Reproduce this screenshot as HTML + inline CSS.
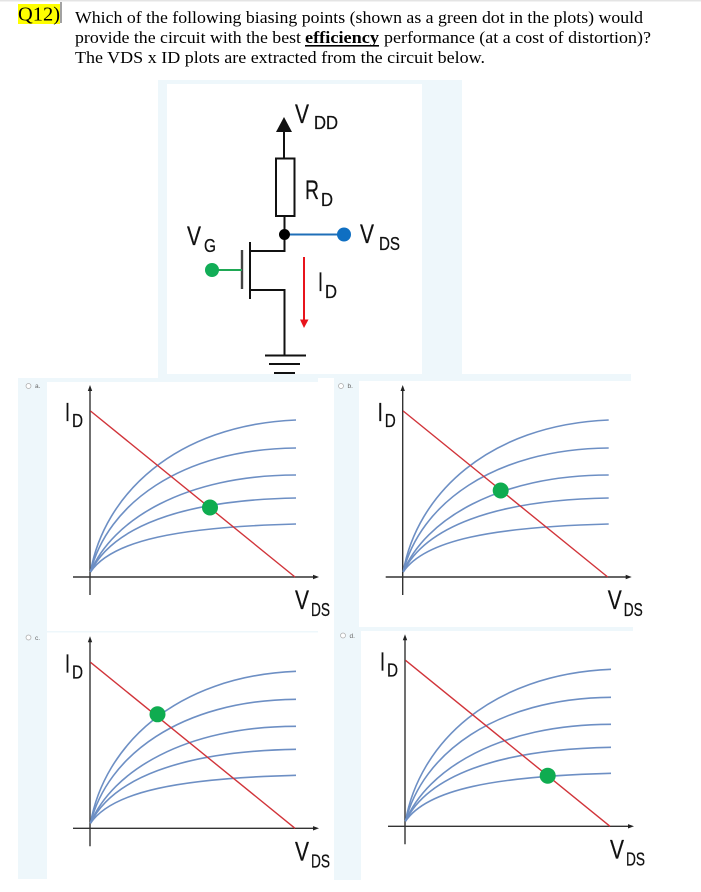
<!DOCTYPE html>
<html>
<head>
<meta charset="utf-8">
<style>
html,body{margin:0;padding:0;background:#fff;width:701px;height:892px;overflow:hidden}
svg{display:block;position:absolute;left:0;top:0}
.q{font-family:"Liberation Serif",serif;fill:#000}
.s{font-family:"Liberation Sans",sans-serif;fill:#111;stroke:#111;stroke-width:.25}
.o{font-family:"Liberation Sans",sans-serif;font-size:6.5px;fill:#666}
.b{fill:#eef7fb}
.cv{fill:none;stroke:#6d8fc4;stroke-width:1.6}
.ax{stroke:#333;stroke-width:1.4;fill:none}
.rd{stroke:#d1343a;stroke-width:1.4;fill:none}
.k{stroke:#111;stroke-width:2;fill:none}
.r{fill:#fff;stroke:#aaa;stroke-width:.7}
</style>
</head>
<body>
<svg width="701" height="892" viewBox="0 0 701 892" xmlns="http://www.w3.org/2000/svg">
<!-- top strip -->
<rect x="0" y="0" width="701" height="1.5" fill="#e4e4e4"/>
<!-- backgrounds -->
<rect class="b" x="158" y="80" width="304" height="298"/>
<rect x="167" y="84" width="255" height="290" fill="#fff"/>
<rect class="b" x="18" y="378" width="300" height="4"/>
<rect class="b" x="18" y="378" width="29" height="501"/>
<rect class="b" x="47" y="631" width="271" height="1.5"/>
<rect class="b" x="334" y="374" width="297" height="7"/>
<rect class="b" x="334" y="378" width="25" height="249"/>
<rect class="b" x="334" y="627" width="299" height="4"/>
<rect class="b" x="334" y="627" width="27" height="253"/>
<!-- question text -->
<rect x="18" y="4" width="42" height="20" fill="#ffff00"/>
<rect x="60.500" y="2" width="1" height="21" fill="#444"/>
<text class="q" x="18" y="20.500" font-size="20" textLength="42" lengthAdjust="spacingAndGlyphs">Q12)</text>
<text class="q" x="75" y="23" font-size="17" textLength="568" lengthAdjust="spacingAndGlyphs">Which of the following biasing points (shown as a green dot in the plots) would</text>
<text class="q" x="75" y="43" font-size="17" textLength="226" lengthAdjust="spacingAndGlyphs">provide the circuit with the best</text>
<text class="q" x="305" y="43" font-size="17" font-weight="bold" textLength="74" lengthAdjust="spacingAndGlyphs">efficiency</text>
<rect x="305" y="45" width="74" height="1.6" fill="#000"/>
<text class="q" x="384" y="43" font-size="17" textLength="267" lengthAdjust="spacingAndGlyphs">performance (at a cost of distortion)?</text>
<text class="q" x="75" y="63" font-size="17" textLength="410" lengthAdjust="spacingAndGlyphs">The VDS x ID plots are extracted from the circuit below.</text>

<!-- circuit -->
<g>
<path d="M284 117 L276 132 L292 132 Z" fill="#111"/>
<path class="k" d="M284 130 V158"/>
<rect x="276" y="158.500" width="18.500" height="57.500" fill="#fff" stroke="#111" stroke-width="2"/>
<path class="k" d="M284.500 216 V252"/>
<path class="k" d="M250 251 H285"/>
<path class="k" d="M250 242 V299" stroke-width="2.200"/>
<path d="M242 250 V289" stroke="#444" stroke-width="2.400" fill="none"/>
<path class="k" d="M250 290 H284.500 V355"/>
<path class="k" d="M265 355.500 H306"/>
<path class="k" d="M269 364 H300"/>
<path class="k" d="M274 373 H295"/>
<circle cx="284.500" cy="234.500" r="5.500" fill="#000"/>
<path d="M290 234.500 H340" stroke="#1f6fb8" stroke-width="2" fill="none"/>
<circle cx="344" cy="234.500" r="7" fill="#0f6fc2"/>
<path d="M214 270 H242" stroke="#1fa855" stroke-width="2" fill="none"/>
<circle cx="212" cy="270" r="7" fill="#12ad57"/>
<path d="M304 257 V322" stroke="#e8141c" stroke-width="2" fill="none"/>
<path d="M300 319.500 H308.500 L304 328 Z" fill="#e8141c"/>
<text class="s" x="295" y="123" font-size="27" textLength="14" lengthAdjust="spacingAndGlyphs">V</text>
<text class="s" x="314" y="129" font-size="18" textLength="24" lengthAdjust="spacingAndGlyphs">DD</text>
<text class="s" x="305" y="199" font-size="27" textLength="14" lengthAdjust="spacingAndGlyphs">R</text>
<text class="s" x="321" y="206" font-size="18" textLength="12" lengthAdjust="spacingAndGlyphs">D</text>
<text class="s" x="360" y="243" font-size="27" textLength="14" lengthAdjust="spacingAndGlyphs">V</text>
<text class="s" x="379" y="250" font-size="18" textLength="21" lengthAdjust="spacingAndGlyphs">DS</text>
<text class="s" x="187" y="245" font-size="27" textLength="14" lengthAdjust="spacingAndGlyphs">V</text>
<text class="s" x="204" y="252" font-size="18" textLength="12" lengthAdjust="spacingAndGlyphs">G</text>
<text class="s" x="318" y="291" font-size="27" textLength="5" lengthAdjust="spacingAndGlyphs">I</text>
<text class="s" x="325" y="298" font-size="18" textLength="12" lengthAdjust="spacingAndGlyphs">D</text>
</g>

<!-- plot a -->
<g>
<path class="ax" d="M90 389 V595"/><path class="ax" d="M73 577 H316"/>
<path d="M90 385 L87.800 391 H92.200 Z" fill="#222"/><path d="M319 577 L313 574.800 V579.200 Z" fill="#222"/>
<path class="cv" d="M90.500 572 C104 495,175 425,296 420"/>
<path class="cv" d="M90.500 572 C107 505,180 449,296 448"/>
<path class="cv" d="M90.500 572 C112 520,185 475,296 475"/>
<path class="cv" d="M90.500 572 C112 528,180 500,296 498"/>
<path class="cv" d="M90.500 572 C112 540,180 527,296 524"/>
<path class="rd" d="M90.500 411 L295 577"/>
<circle cx="210" cy="507.500" r="8" fill="#0fac50"/>
<text class="s" x="65" y="421" font-size="26" textLength="5" lengthAdjust="spacingAndGlyphs">I</text>
<text class="s" x="72" y="427" font-size="18" textLength="11" lengthAdjust="spacingAndGlyphs">D</text>
<text class="s" x="295" y="609" font-size="27" textLength="14" lengthAdjust="spacingAndGlyphs">V</text>
<text class="s" x="311" y="616" font-size="18" textLength="19" lengthAdjust="spacingAndGlyphs">DS</text>
</g>
<circle class="r" cx="28.500" cy="386" r="2.500"/><text class="o" x="35" y="388">a.</text>

<!-- plot b -->
<g transform="translate(312.700,0)">
<path class="ax" d="M90 389 V595"/><path class="ax" d="M73 577 H316"/>
<path d="M90 385 L87.800 391 H92.200 Z" fill="#222"/><path d="M319 577 L313 574.800 V579.200 Z" fill="#222"/>
<path class="cv" d="M90.500 572 C104 495,175 425,296 420"/>
<path class="cv" d="M90.500 572 C107 505,180 449,296 448"/>
<path class="cv" d="M90.500 572 C112 520,185 475,296 475"/>
<path class="cv" d="M90.500 572 C112 528,180 500,296 498"/>
<path class="cv" d="M90.500 572 C112 540,180 527,296 524"/>
<path class="rd" d="M90.500 411 L295 577"/>
<circle cx="188" cy="490.500" r="8" fill="#0fac50"/>
<text class="s" x="65" y="421" font-size="26" textLength="5" lengthAdjust="spacingAndGlyphs">I</text>
<text class="s" x="72" y="427" font-size="18" textLength="11" lengthAdjust="spacingAndGlyphs">D</text>
<text class="s" x="295" y="609" font-size="27" textLength="14" lengthAdjust="spacingAndGlyphs">V</text>
<text class="s" x="311" y="616" font-size="18" textLength="19" lengthAdjust="spacingAndGlyphs">DS</text>
</g>
<circle class="r" cx="341" cy="386" r="2.500"/><text class="o" x="347.500" y="388">b.</text>

<!-- plot c -->
<g transform="translate(0,251.300)">
<path class="ax" d="M90 389 V595"/><path class="ax" d="M73 577 H316"/>
<path d="M90 385 L87.800 391 H92.200 Z" fill="#222"/><path d="M319 577 L313 574.800 V579.200 Z" fill="#222"/>
<path class="cv" d="M90.500 572 C104 495,175 425,296 420"/>
<path class="cv" d="M90.500 572 C107 505,180 449,296 448"/>
<path class="cv" d="M90.500 572 C112 520,185 475,296 475"/>
<path class="cv" d="M90.500 572 C112 528,180 500,296 498"/>
<path class="cv" d="M90.500 572 C112 540,180 527,296 524"/>
<path class="rd" d="M90.500 411 L295 577"/>
<circle cx="157.500" cy="463" r="8" fill="#0fac50"/>
<text class="s" x="65" y="421" font-size="26" textLength="5" lengthAdjust="spacingAndGlyphs">I</text>
<text class="s" x="72" y="427" font-size="18" textLength="11" lengthAdjust="spacingAndGlyphs">D</text>
<text class="s" x="295" y="609" font-size="27" textLength="14" lengthAdjust="spacingAndGlyphs">V</text>
<text class="s" x="311" y="616" font-size="18" textLength="19" lengthAdjust="spacingAndGlyphs">DS</text>
</g>
<circle class="r" cx="28.500" cy="637.500" r="2.500"/><text class="o" x="35" y="640">c.</text>

<!-- plot d -->
<g transform="translate(315,249.300)">
<path class="ax" d="M90 389 V595"/><path class="ax" d="M73 577 H316"/>
<path d="M90 385 L87.800 391 H92.200 Z" fill="#222"/><path d="M319 577 L313 574.800 V579.200 Z" fill="#222"/>
<path class="cv" d="M90.500 572 C104 495,175 425,296 420"/>
<path class="cv" d="M90.500 572 C107 505,180 449,296 448"/>
<path class="cv" d="M90.500 572 C112 520,185 475,296 475"/>
<path class="cv" d="M90.500 572 C112 528,180 500,296 498"/>
<path class="cv" d="M90.500 572 C112 540,180 527,296 524"/>
<path class="rd" d="M90.500 411 L295 577"/>
<circle cx="232.700" cy="526.400" r="8" fill="#0fac50"/>
<text class="s" x="65" y="421" font-size="26" textLength="5" lengthAdjust="spacingAndGlyphs">I</text>
<text class="s" x="72" y="427" font-size="18" textLength="11" lengthAdjust="spacingAndGlyphs">D</text>
<text class="s" x="295" y="609" font-size="27" textLength="14" lengthAdjust="spacingAndGlyphs">V</text>
<text class="s" x="311" y="616" font-size="18" textLength="19" lengthAdjust="spacingAndGlyphs">DS</text>
</g>
<circle class="r" cx="343" cy="635.500" r="2.500"/><text class="o" x="349.500" y="638">d.</text>
</svg>
</body>
</html>
